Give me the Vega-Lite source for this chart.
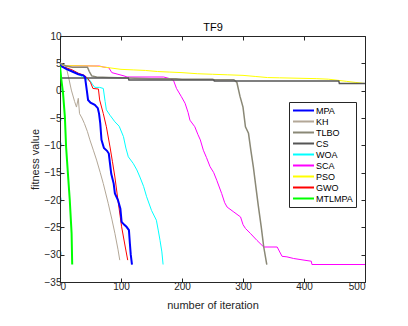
{
  "$schema": "https://vega.github.io/schema/vega-lite/v6.json",
  "autosize": "none",
  "width": 305,
  "height": 246,
  "padding": {"left": 60, "top": 36, "right": 43, "bottom": 44},
  "background": "white",
  "config": {
    "font": "Liberation Sans",
    "view": {"stroke": "#262626", "strokeWidth": 1},
    "axis": {"grid": false, "domain": false, "tickColor": "#262626", "tickSize": -4, "labelColor": "#262626", "labelFontSize": 10, "titleFontSize": 11, "titleFontWeight": "normal", "titleColor": "#262626"}
  },
  "datasets": {"d": [
    {"a":"MPA","x":0,"y":4.6},{"a":"MPA","x":5,"y":4.3},{"a":"MPA","x":10,"y":4.0},{"a":"MPA","x":20,"y":3.5},{"a":"MPA","x":30,"y":3.0},{"a":"MPA","x":38,"y":2.8},{"a":"MPA","x":41,"y":2.5},{"a":"MPA","x":44,"y":0},{"a":"MPA","x":46,"y":-1.7},{"a":"MPA","x":50,"y":-2.2},{"a":"MPA","x":57,"y":-2.6},{"a":"MPA","x":62,"y":-3.2},{"a":"MPA","x":64,"y":-4.2},{"a":"MPA","x":66,"y":-6},{"a":"MPA","x":68,"y":-9},{"a":"MPA","x":72,"y":-10.5},{"a":"MPA","x":77,"y":-11},{"a":"MPA","x":80,"y":-11.5},{"a":"MPA","x":84,"y":-15.2},{"a":"MPA","x":88,"y":-17},{"a":"MPA","x":90,"y":-18.8},{"a":"MPA","x":95,"y":-20},{"a":"MPA","x":99,"y":-21.6},{"a":"MPA","x":101,"y":-24},{"a":"MPA","x":105,"y":-24.5},{"a":"MPA","x":109,"y":-24.9},{"a":"MPA","x":113,"y":-25.5},{"a":"MPA","x":114.6,"y":-28},{"a":"MPA","x":116,"y":-30},{"a":"MPA","x":118,"y":-31.8},
    {"a":"KH","x":0,"y":5.1},{"a":"KH","x":5,"y":4.8},{"a":"KH","x":10,"y":4.4},{"a":"KH","x":14,"y":2.5},{"a":"KH","x":18.6,"y":0.1},{"a":"KH","x":24,"y":-2},{"a":"KH","x":27,"y":-3},{"a":"KH","x":30,"y":-1.4},{"a":"KH","x":32,"y":-4.2},{"a":"KH","x":36,"y":-5},{"a":"KH","x":40,"y":-6},{"a":"KH","x":45,"y":-7.5},{"a":"KH","x":49,"y":-9},{"a":"KH","x":55,"y":-11},{"a":"KH","x":60,"y":-12.7},{"a":"KH","x":66,"y":-15},{"a":"KH","x":71,"y":-17},{"a":"KH","x":79,"y":-20.6},{"a":"KH","x":85,"y":-23.5},{"a":"KH","x":90,"y":-26.1},{"a":"KH","x":95,"y":-29},{"a":"KH","x":98,"y":-31},
    {"a":"TLBO","x":0,"y":5},{"a":"TLBO","x":5,"y":4.8},{"a":"TLBO","x":10,"y":4.5},{"a":"TLBO","x":20,"y":4.3},{"a":"TLBO","x":45,"y":4.3},{"a":"TLBO","x":48,"y":3.5},{"a":"TLBO","x":52,"y":2.7},{"a":"TLBO","x":60,"y":2.5},{"a":"TLBO","x":80,"y":2.4},{"a":"TLBO","x":110,"y":2.3},{"a":"TLBO","x":150,"y":2.2},{"a":"TLBO","x":190,"y":2.2},{"a":"TLBO","x":200,"y":2.1},{"a":"TLBO","x":250,"y":2.1},{"a":"TLBO","x":252,"y":2.0},{"a":"TLBO","x":285,"y":2.0},{"a":"TLBO","x":290,"y":1.5},{"a":"TLBO","x":295,"y":-1},{"a":"TLBO","x":300,"y":-3},{"a":"TLBO","x":304,"y":-6.6},{"a":"TLBO","x":309,"y":-7.8},{"a":"TLBO","x":313,"y":-11},{"a":"TLBO","x":317,"y":-14},{"a":"TLBO","x":321,"y":-17.5},{"a":"TLBO","x":325,"y":-21},{"a":"TLBO","x":330,"y":-25},{"a":"TLBO","x":334,"y":-28.6},{"a":"TLBO","x":339,"y":-31.8},
    {"a":"CS","x":0,"y":2.3},{"a":"CS","x":112,"y":2.3},{"a":"CS","x":113,"y":1.95},{"a":"CS","x":252,"y":1.95},{"a":"CS","x":253,"y":1.78},{"a":"CS","x":457,"y":1.78},{"a":"CS","x":458,"y":1.3},{"a":"CS","x":500,"y":1.3},
    {"a":"WOA","x":0,"y":5},{"a":"WOA","x":5,"y":4.5},{"a":"WOA","x":10,"y":4},{"a":"WOA","x":20,"y":3.5},{"a":"WOA","x":30,"y":3},{"a":"WOA","x":37,"y":2.5},{"a":"WOA","x":45,"y":2.0},{"a":"WOA","x":49,"y":1.9},{"a":"WOA","x":53,"y":1.2},{"a":"WOA","x":57,"y":0.6},{"a":"WOA","x":65,"y":0.6},{"a":"WOA","x":71,"y":0.4},{"a":"WOA","x":74,"y":-2},{"a":"WOA","x":76,"y":-3.5},{"a":"WOA","x":82,"y":-4.5},{"a":"WOA","x":90,"y":-5.7},{"a":"WOA","x":97,"y":-6.5},{"a":"WOA","x":104,"y":-8.4},{"a":"WOA","x":108,"y":-10.5},{"a":"WOA","x":112,"y":-12.1},{"a":"WOA","x":120,"y":-13.3},{"a":"WOA","x":126,"y":-14.5},{"a":"WOA","x":131,"y":-15.8},{"a":"WOA","x":137,"y":-17.5},{"a":"WOA","x":142,"y":-19.4},{"a":"WOA","x":150,"y":-21.9},{"a":"WOA","x":158,"y":-23.7},{"a":"WOA","x":161,"y":-25.5},{"a":"WOA","x":164,"y":-27.4},{"a":"WOA","x":167,"y":-29.5},{"a":"WOA","x":169,"y":-31.8},
    {"a":"SCA","x":0,"y":4.6},{"a":"SCA","x":65,"y":4.5},{"a":"SCA","x":72,"y":4.3},{"a":"SCA","x":80,"y":4.2},{"a":"SCA","x":85,"y":3.3},{"a":"SCA","x":95,"y":3.0},{"a":"SCA","x":105,"y":2.7},{"a":"SCA","x":110,"y":2.5},{"a":"SCA","x":170,"y":2.5},{"a":"SCA","x":180,"y":2.2},{"a":"SCA","x":186,"y":1.9},{"a":"SCA","x":191,"y":0.4},{"a":"SCA","x":199,"y":-1.1},{"a":"SCA","x":205,"y":-2.3},{"a":"SCA","x":210,"y":-4},{"a":"SCA","x":213,"y":-5.4},{"a":"SCA","x":221,"y":-6.6},{"a":"SCA","x":226,"y":-8},{"a":"SCA","x":230,"y":-9},{"a":"SCA","x":235,"y":-10.9},{"a":"SCA","x":240,"y":-12.2},{"a":"SCA","x":246,"y":-13.9},{"a":"SCA","x":252,"y":-15},{"a":"SCA","x":257,"y":-16.4},{"a":"SCA","x":265,"y":-18.8},{"a":"SCA","x":270,"y":-20.5},{"a":"SCA","x":274,"y":-21.3},{"a":"SCA","x":285,"y":-22.2},{"a":"SCA","x":296,"y":-23.1},{"a":"SCA","x":300,"y":-24.5},{"a":"SCA","x":304,"y":-25.2},{"a":"SCA","x":312,"y":-26.1},{"a":"SCA","x":323,"y":-27.4},{"a":"SCA","x":334,"y":-28.6},{"a":"SCA","x":356,"y":-28.6},{"a":"SCA","x":364,"y":-30.3},{"a":"SCA","x":372,"y":-30.4},{"a":"SCA","x":383,"y":-30.7},{"a":"SCA","x":400,"y":-31},{"a":"SCA","x":412,"y":-31.2},{"a":"SCA","x":413,"y":-31.8},{"a":"SCA","x":500,"y":-31.8},
    {"a":"PSO","x":0,"y":4.6},{"a":"PSO","x":60,"y":4.5},{"a":"PSO","x":80,"y":4.2},{"a":"PSO","x":100,"y":3.9},{"a":"PSO","x":120,"y":3.8},{"a":"PSO","x":140,"y":3.7},{"a":"PSO","x":160,"y":3.5},{"a":"PSO","x":180,"y":3.4},{"a":"PSO","x":200,"y":3.3},{"a":"PSO","x":225,"y":3.1},{"a":"PSO","x":250,"y":3.0},{"a":"PSO","x":275,"y":2.9},{"a":"PSO","x":300,"y":2.8},{"a":"PSO","x":320,"y":2.6},{"a":"PSO","x":340,"y":2.4},{"a":"PSO","x":360,"y":2.35},{"a":"PSO","x":420,"y":2.2},{"a":"PSO","x":440,"y":2.1},{"a":"PSO","x":455,"y":1.9},{"a":"PSO","x":470,"y":1.7},{"a":"PSO","x":485,"y":1.5},{"a":"PSO","x":500,"y":1.3},
    {"a":"GWO","x":0,"y":4.5},{"a":"GWO","x":10,"y":4.2},{"a":"GWO","x":20,"y":3.8},{"a":"GWO","x":30,"y":3.2},{"a":"GWO","x":40,"y":2.8},{"a":"GWO","x":45,"y":2.3},{"a":"GWO","x":50,"y":1.5},{"a":"GWO","x":54,"y":0.4},{"a":"GWO","x":63,"y":0.3},{"a":"GWO","x":65,"y":-1.7},{"a":"GWO","x":71,"y":-4.2},{"a":"GWO","x":76,"y":-6.6},{"a":"GWO","x":82,"y":-10.3},{"a":"GWO","x":86,"y":-13},{"a":"GWO","x":90,"y":-15.8},{"a":"GWO","x":95,"y":-20},{"a":"GWO","x":101,"y":-24.9},{"a":"GWO","x":107,"y":-28.6},{"a":"GWO","x":111,"y":-31},
    {"a":"MTLMPA","x":0,"y":4.5},{"a":"MTLMPA","x":2,"y":2.2},{"a":"MTLMPA","x":5,"y":-0.5},{"a":"MTLMPA","x":8,"y":-4.8},{"a":"MTLMPA","x":10,"y":-10.3},{"a":"MTLMPA","x":13,"y":-15.2},{"a":"MTLMPA","x":16,"y":-20},{"a":"MTLMPA","x":19,"y":-26.1},{"a":"MTLMPA","x":20,"y":-31.8}
  ]},
  "data": {"name": "d"},
  "encoding": {
    "x": {"field": "x", "type": "quantitative", "scale": {"domain": [0, 500], "nice": false}},
    "y": {"field": "y", "type": "quantitative", "scale": {"domain": [-35, 10], "nice": false}},
    "color": {"field": "a", "type": "nominal", "sort": null,
      "scale": {"domain": ["MPA","KH","TLBO","CS","WOA","SCA","PSO","GWO","MTLMPA"], "range": ["#0000ff","#b3a797","#8a8876","#555555","#00ffff","#ff00ff","#ffff00","#ff0000","#00ff00"]},
      "legend": {"title": null, "orient": "none", "legendX": 229, "legendY": 66, "symbolType": "M-2.35,0H2.35", "symbolSize": 80, "symbolStrokeWidth": 2, "symbolOffset": 6, "labelFontSize": 9, "labelColor": "#000", "strokeColor": "#262626", "fillColor": "white", "padding": 3, "rowPadding": 0, "labelOffset": 7}},
    "detail": {"field": "a"},
    "order": {"field": "x", "type": "quantitative"}
  },
  "layer": [
    {
      "transform": [{"filter": {"field": "a", "oneOf": ["KH","WOA","SCA","PSO","GWO"]}}],
      "mark": {"type": "line", "strokeWidth": 1, "clip": true},
      "encoding": {
        "x": {"field": "x", "type": "quantitative", "axis": {"values": [0,100,200,300,400,500], "title": "number of iteration", "titlePadding": 8, "labelPadding": 3}},
        "y": {"field": "y", "type": "quantitative", "axis": {"values": [-35,-30,-25,-20,-15,-10,-5,0,5,10], "title": "fitness value", "titlePadding": 4, "labelPadding": 3}}
      }
    },
    {
      "transform": [{"filter": {"field": "a", "oneOf": ["TLBO","CS"]}}],
      "mark": {"type": "line", "strokeWidth": 1.5, "clip": true},
      "encoding": {
        "x": {"field": "x", "type": "quantitative", "axis": {"orient": "top", "values": [0,100,200,300,400,500], "labels": false, "title": "TF9", "titleColor": "#000", "titlePadding": 3}},
        "y": {"field": "y", "type": "quantitative", "axis": {"orient": "right", "values": [-35,-30,-25,-20,-15,-10,-5,0,5,10], "labels": false, "title": null}}
      }
    },
    {
      "transform": [{"filter": {"field": "a", "oneOf": ["MPA","MTLMPA"]}}],
      "mark": {"type": "line", "strokeWidth": 2, "clip": true},
      "encoding": {
        "x": {"field": "x", "type": "quantitative", "axis": null},
        "y": {"field": "y", "type": "quantitative", "axis": null}
      }
    }
  ],
  "resolve": {"axis": {"x": "independent", "y": "independent"}}
}
